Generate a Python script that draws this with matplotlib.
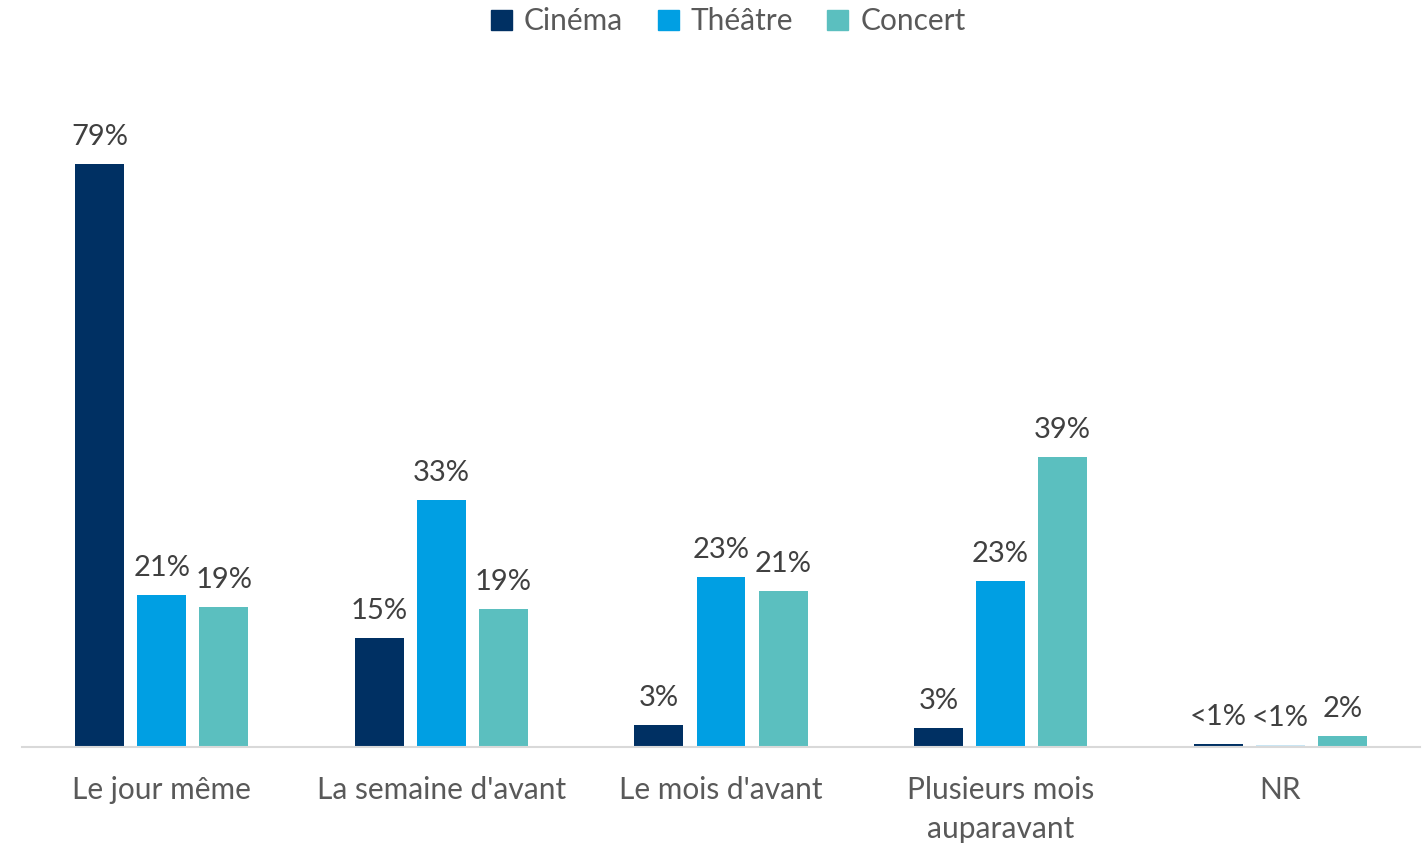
import numpy as np
import matplotlib
matplotlib.use('Agg')
import matplotlib.pyplot as plt
from matplotlib.patches import Patch

categories = ['Le jour même', "La semaine d'avant", "Le mois d'avant",
              'Plusieurs mois\nauparavant', 'NR']
series = ['Cinéma', 'Théâtre', 'Concert']
cinema = [79, 14.8, 3.0, 2.6, 0.4]
theatre = [20.6, 33.5, 23.0, 22.5, 0.25]
concert = [19.0, 18.7, 21.1, 39.3, 1.5]
cinema_lbl = ['79%', '15%', '3%', '3%', '<1%']
theatre_lbl = ['21%', '33%', '23%', '23%', '<1%']
concert_lbl = ['19%', '19%', '21%', '39%', '2%']

colors = ['#003063', '#009FE3', '#5BBFBF']
nr_theatre_color = '#C9E6F5'

plt.rcParams['font.family'] = ['Lato', 'DejaVu Sans']

fig = plt.figure(figsize=(14.28, 8.44), dpi=100)
ax = fig.add_axes([0.0154, 0.1149, 0.979, 0.7666])

x = np.arange(len(categories))
w = 0.175
step = 0.222
data = [cinema, theatre, concert]
labels = [cinema_lbl, theatre_lbl, concert_lbl]
for i, (vals, lbls) in enumerate(zip(data, labels)):
    cols = [colors[i]] * len(vals)
    if i == 1:
        cols[-1] = nr_theatre_color
    bars = ax.bar(x + (i - 1) * step, vals, width=w, color=cols)
    for b, v, l in zip(bars, vals, lbls):
        ax.annotate(l, (b.get_x() + b.get_width() / 2, v), xytext=(0, 10),
                    textcoords='offset points', ha='center', va='bottom',
                    fontsize=21, color='#404040')

ax.set_xlim(-0.5, 4.5)
ax.set_ylim(0, 87.7)
ax.set_yticks([])
ax.set_xticks(x)
ax.set_xticklabels(categories, fontsize=21.5, color='#595959', linespacing=1.45)
ax.tick_params(axis='x', length=0, pad=21)
for s in ['top', 'right', 'left']:
    ax.spines[s].set_visible(False)
ax.spines['bottom'].set_color('#D9D9D9')
ax.spines['bottom'].set_linewidth(1.5)

handles = [Patch(color=c) for c in colors]
fig.legend(handles, series, loc='upper center', bbox_to_anchor=(0.51, 1.023),
           ncol=3, frameon=False, fontsize=21.5, labelcolor='#595959',
           handlelength=0.7, handleheight=0.7, handletextpad=0.4,
           columnspacing=1.15)

fig.savefig('out.png', dpi=100)
